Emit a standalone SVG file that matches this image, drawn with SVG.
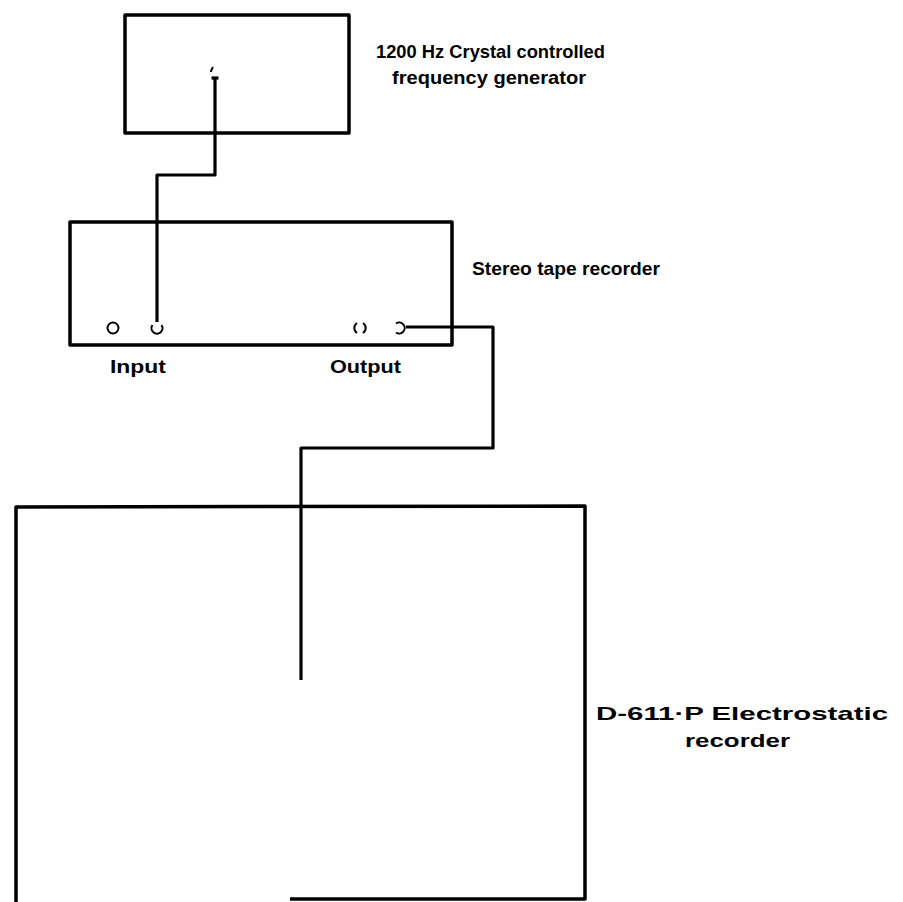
<svg xmlns="http://www.w3.org/2000/svg" width="903" height="902" viewBox="0 0 903 902">
<style>
.box{fill:none;stroke:#000;stroke-width:3.5;stroke-linejoin:round}
.wire{fill:none;stroke:#000;stroke-width:3.2;stroke-linejoin:round}
.jack{fill:none;stroke:#000;stroke-width:2}
.lbl{font-family:"Liberation Sans",Arial,sans-serif;font-weight:bold;font-size:19px;fill:#000}
</style>
<rect width="903" height="902" fill="#fff"/>
<g id="generator">
<rect class="box" x="125" y="15" width="224" height="118"/>
<path class="jack" d="M211 72 Q211 70 213 67"/>
<text class="lbl" x="376" y="58" textLength="229" lengthAdjust="spacingAndGlyphs">1200 Hz Crystal controlled</text>
<text class="lbl" x="392" y="84" textLength="194" lengthAdjust="spacingAndGlyphs">frequency generator</text>
</g>
<g id="tape-recorder">
<rect class="box" x="70" y="222" width="382" height="123"/>
<circle class="jack" cx="113" cy="328" r="5.5"/>
<path class="jack" d="M152.5 325 A5.5 5.5 0 1 0 161.5 325"/>
<path class="jack" d="M357 323 A6 6 0 0 0 357 333 M363 323 A6 6 0 0 1 363 333"/>
<path class="jack" d="M396 323.5 A5.5 5.5 0 1 1 396 332.5"/>
<text class="lbl" x="472" y="275" textLength="188" lengthAdjust="spacingAndGlyphs">Stereo tape recorder</text>
<text class="lbl" x="110" y="373" textLength="56" lengthAdjust="spacingAndGlyphs">Input</text>
<text class="lbl" x="330" y="373" textLength="71" lengthAdjust="spacingAndGlyphs">Output</text>
</g>
<g id="electrostatic-recorder">
<path class="box" d="M16 902 L16 507 L585 506 L585 899 L290 899"/>
<text class="lbl" x="596" y="720" textLength="292" lengthAdjust="spacingAndGlyphs">D-611·P Electrostatic</text>
<text class="lbl" x="685" y="747" textLength="105" lengthAdjust="spacingAndGlyphs">recorder</text>
</g>
<g id="connectors">
<path class="wire" d="M215 78 L215 175 L157 175 L157 322"/>
<path class="wire" d="M211.5 78 L218.5 78"/>
<path class="wire" d="M406 327 L493 327 L493 448 L301 448 L301 680"/>
</g>
</svg>
